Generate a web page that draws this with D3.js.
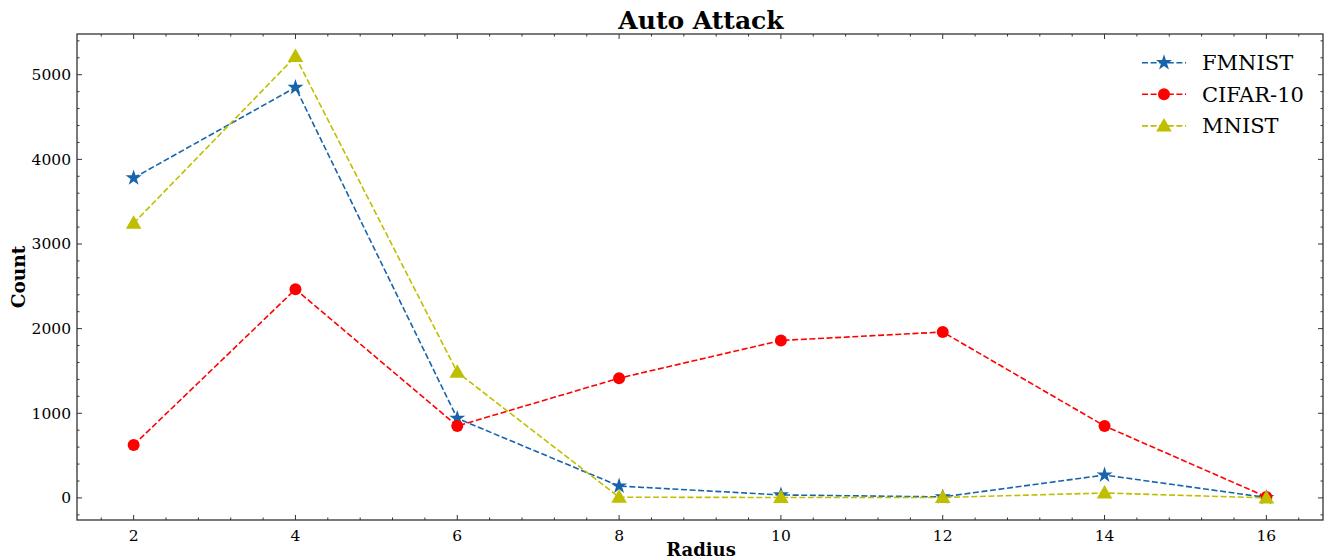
<!DOCTYPE html>
<html lang="en">
<head>
<meta charset="UTF-8">
<title>Auto Attack</title>
<style>
  body { margin: 0; background: #fff; }
  text { font-family: "DejaVu Serif", serif; fill: #000; }
</style>
</head>
<body>
<script src="https://d3js.org/d3.v7.min.js"></script>
<div id="chart"></div>
<script>
const radius = [2, 4, 6, 8, 10, 12, 14, 16]
const fmnist = [3780, 4850, 940, 140, 35, 12, 270, 5]
const cifar = [625, 2465, 850, 1415, 1860, 1960, 850, 12]
const mnist = [3245, 5215, 1485, 8, 5, 5, 58, 0]
const xTicks = [2, 4, 6, 8, 10, 12, 14, 16]
const yTicks = [0, 1000, 2000, 3000, 4000, 5000]

const series = [
  {name: 'FMNIST', values: fmnist, color: '#1764ab', marker: 'star'},
  {name: 'CIFAR-10', values: cifar, color: '#ff0000', marker: 'circle'},
  {name: 'MNIST', values: mnist, color: '#bfbf00', marker: 'triangle'}
]

const W = 1325, H = 559
const margin = {left: 77, right: 2, top: 34, bottom: 39}

const svg = d3.select('#chart').append('svg')
  .attr('width', W).attr('height', H)

const x = d3.scaleLinear().domain([1.3, 16.7]).range([margin.left, W - margin.right])
const y = d3.scaleLinear().domain([-261, 5481]).range([H - margin.bottom, margin.top])

const plot = svg.append('g')

// ticks (inward, all four sides)
const x0 = margin.left, x1 = W - margin.right, y0 = H - margin.bottom, y1 = margin.top
const xMinor = d3.range(1.6, 16.7, 0.4).filter(v => Math.abs(v / 2 - Math.round(v / 2)) > 0.01)
const yMinor = d3.range(-200, 5481, 200).filter(v => v % 1000 !== 0)
const tickG = svg.append('g').attr('stroke', '#333').attr('stroke-width', 1)
xTicks.forEach(v => {
  tickG.append('line').attr('x1', x(v)).attr('x2', x(v)).attr('y1', y0).attr('y2', y0 - 5)
  tickG.append('line').attr('x1', x(v)).attr('x2', x(v)).attr('y1', y1).attr('y2', y1 + 5)
})
xMinor.forEach(v => {
  tickG.append('line').attr('x1', x(v)).attr('x2', x(v)).attr('y1', y0).attr('y2', y0 - 2.5)
  tickG.append('line').attr('x1', x(v)).attr('x2', x(v)).attr('y1', y1).attr('y2', y1 + 2.5)
})
yTicks.forEach(v => {
  tickG.append('line').attr('x1', x0).attr('x2', x0 + 5).attr('y1', y(v)).attr('y2', y(v))
  tickG.append('line').attr('x1', x1).attr('x2', x1 - 5).attr('y1', y(v)).attr('y2', y(v))
})
yMinor.forEach(v => {
  tickG.append('line').attr('x1', x0).attr('x2', x0 + 2.5).attr('y1', y(v)).attr('y2', y(v))
  tickG.append('line').attr('x1', x1).attr('x2', x1 - 2.5).attr('y1', y(v)).attr('y2', y(v))
})

// tick labels
svg.append('g').selectAll('text').data(xTicks).join('text')
  .attr('x', d => x(d)).attr('y', y0 + 21)
  .attr('text-anchor', 'middle').style('font-size', '15.5px')
  .text(d => d)
svg.append('g').selectAll('text').data(yTicks).join('text')
  .attr('x', x0 - 6).attr('y', d => y(d) + 5.5)
  .attr('text-anchor', 'end').style('font-size', '15.5px')
  .text(d => d)

// frame
svg.append('rect')
  .attr('x', x0).attr('y', y1).attr('width', x1 - x0).attr('height', y0 - y1)
  .attr('fill', 'none').attr('stroke', '#333').attr('stroke-width', 1.3)

// markers
const star = d3.symbol().type(d3.symbolStar).size(80)
const tri = d3.symbol().type(d3.symbolTriangle).size(105)
function drawMarker(g, type, cx, cy, color) {
  if (type === 'circle') {
    g.append('circle').attr('cx', cx).attr('cy', cy).attr('r', 6).attr('fill', color)
  } else {
    g.append('path').attr('d', type === 'star' ? star() : tri())
      .attr('transform', `translate(${cx},${cy + (type === 'triangle' ? 1 : 0)})`)
      .attr('fill', color)
  }
}

const line = d3.line().x((d, i) => x(radius[i])).y(d => y(d))
series.forEach(s => {
  const g = plot.append('g')
  g.append('path').datum(s.values)
    .attr('d', line).attr('fill', 'none')
    .attr('stroke', s.color).attr('stroke-width', 1.6)
    .attr('stroke-dasharray', '6,2.6')
  s.values.forEach((v, i) => drawMarker(g, s.marker, x(radius[i]), y(v), s.color))
})

// title and axis labels
svg.append('text').attr('x', (x0 + x1) / 2 + 1).attr('y', 29)
  .attr('text-anchor', 'middle').style('font-size', '25px').style('font-weight', 'bold')
  .text('Auto Attack')
svg.append('text').attr('x', (x0 + x1) / 2 + 1).attr('y', 556)
  .attr('text-anchor', 'middle').style('font-size', '18px').style('font-weight', 'bold')
  .text('Radius')
svg.append('text')
  .attr('transform', `translate(25,${(y0 + y1) / 2}) rotate(-90)`)
  .attr('text-anchor', 'middle').style('font-size', '18.5px').style('font-weight', 'bold')
  .text('Count')

// legend
const legend = svg.append('g')
series.forEach((s, i) => {
  const ly = 62.7 + i * 31.6
  legend.append('line').attr('x1', 1142).attr('x2', 1186).attr('y1', ly).attr('y2', ly)
    .attr('stroke', s.color).attr('stroke-width', 1.6).attr('stroke-dasharray', '6,2.6')
  drawMarker(legend, s.marker, 1164, ly, s.color)
  legend.append('text').attr('x', 1202).attr('y', ly + 7.5)
    .style('font-size', '21px').text(s.name)
})
</script>
</body>
</html>
